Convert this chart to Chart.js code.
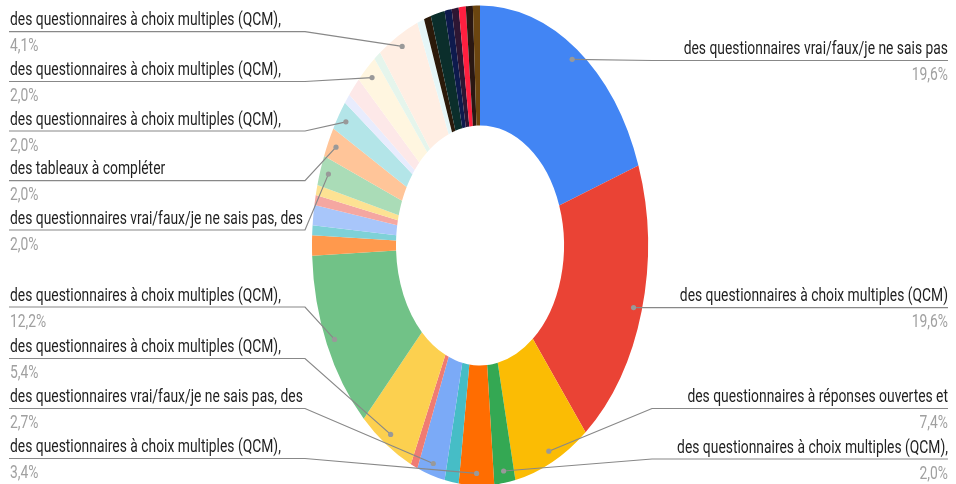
<!DOCTYPE html>
<html>
<head>
<meta charset="utf-8">
<script src="https://cdn.jsdelivr.net/npm/chart.js@4.4.1/dist/chart.umd.min.js"></script>
<style>
  html, body { margin: 0; padding: 0; background: #ffffff; }
  #wrap { position: relative; width: 956px; height: 484px; }
</style>
</head>
<body>
<div id="wrap"><canvas id="c"></canvas></div>
<script>
// ---- Data (counts of answers, total 148) ----
const categories = [
  "des questionnaires vrai/faux/je ne sais pas",
  "des questionnaires à choix multiples (QCM)",
  "des questionnaires à réponses ouvertes et",
  "des questionnaires à choix multiples (QCM),",
  "des questionnaires à choix multiples (QCM),",
  "",
  "des questionnaires vrai/faux/je ne sais pas, des",
  "",
  "des questionnaires à choix multiples (QCM),",
  "des questionnaires à choix multiples (QCM),",
  "", "", "", "", "",
  "des questionnaires vrai/faux/je ne sais pas, des",
  "des tableaux à compléter",
  "des questionnaires à choix multiples (QCM),",
  "", "",
  "des questionnaires à choix multiples (QCM),",
  "",
  "des questionnaires à choix multiples (QCM),",
  "", "", "", "", "", "", "", ""
];
const counts = [29, 29, 11, 3, 5, 2, 4, 1, 8, 18, 2, 1, 2, 1, 1, 3, 3, 3, 1, 2, 3, 1, 6, 1, 1, 2, 1, 1, 1, 1, 1];
const sliceColors = [
  "#4285f4", "#ea4335", "#fbbc04", "#34a853", "#ff6d01", "#46bdc6", "#7baaf7", "#f07b72",
  "#fcd04f", "#71c287", "#ff994d", "#7ed1d7", "#a8c6fa", "#f5a7a1", "#fde293", "#aadcb7",
  "#ffc599", "#b3e5e8", "#e8ecfd", "#fde8e8", "#fff6e0", "#e5f5ec", "#ffeee3", "#e6f6f7",
  "#2b1a0a", "#0b2e2b", "#0e1a4d", "#2e1633", "#ff1f3f", "#2a1712", "#6b4510"
];

// ---- Layout of the callouts (text rows; not data) ----
const callouts = [
  { i: 0,  side: "right", y: 60.5 },
  { i: 1,  side: "right", y: 307.7 },
  { i: 2,  side: "right", y: 408.5 },
  { i: 3,  side: "right", y: 459 },
  { i: 22, side: "left",  y: 31.7 },
  { i: 20, side: "left",  y: 81.5 },
  { i: 17, side: "left",  y: 131 },
  { i: 16, side: "left",  y: 180.7 },
  { i: 15, side: "left",  y: 230 },
  { i: 9,  side: "left",  y: 307 },
  { i: 8,  side: "left",  y: 358.5 },
  { i: 6,  side: "left",  y: 408.5 },
  { i: 4,  side: "left",  y: 458.5 }
];

const SQUASH = 0.7;      // the reference donut is drawn as an ellipse
const TEXT_SX = 0.77;    // horizontal squeeze of the label text
const FONT = "18px Roboto";

const total = counts.reduce((a, b) => a + b, 0);
const pct = v => (v / total * 100).toFixed(1).replace(".", ",") + "%";

const ellipsePlugin = {
  id: "ellipse",
  beforeDatasetsDraw(chart) {
    const arc = chart.getDatasetMeta(0).data[0];
    const ctx = chart.ctx;
    ctx.save();
    ctx.translate(arc.x, 0);
    ctx.scale(SQUASH, 1);
    ctx.translate(-arc.x, 0);
  },
  afterDatasetsDraw(chart) {
    chart.ctx.restore();
  }
};

function squeezedText(ctx, txt, x, y, align, color) {
  ctx.save();
  ctx.translate(x, y);
  ctx.scale(TEXT_SX, 1);
  ctx.textAlign = align;
  ctx.textBaseline = "alphabetic";
  ctx.fillStyle = color;
  ctx.font = FONT;
  ctx.fillText(txt, 0, 0);
  ctx.restore();
}

const calloutPlugin = {
  id: "callouts",
  afterDraw(chart) {
    const ctx = chart.ctx;
    const meta = chart.getDatasetMeta(0);
    callouts.forEach(c => {
      const arc = meta.data[c.i];
      const mid = (arc.startAngle + arc.endAngle) / 2;
      const r = arc.outerRadius * 0.95;
      const px = arc.x + Math.cos(mid) * r * SQUASH;
      const py = arc.y + Math.sin(mid) * r;
      const left = c.side === "left";
      const xEdge = left ? 9 : 948;
      const xElbow = left ? 305 : 652;
      ctx.save();
      ctx.strokeStyle = "#888888";
      ctx.lineWidth = 1.2;
      ctx.beginPath();
      ctx.moveTo(xEdge, c.y);
      ctx.lineTo(xElbow, c.y);
      ctx.lineTo(px, py);
      ctx.stroke();
      ctx.fillStyle = "#999999";
      ctx.beginPath();
      ctx.arc(px, py, 2.6, 0, Math.PI * 2);
      ctx.fill();
      ctx.restore();
      const tx = left ? 10 : 948;
      const al = left ? "left" : "right";
      squeezedText(ctx, categories[c.i], tx, c.y - 6.5, al, "#1f1f1f");
      squeezedText(ctx, pct(counts[c.i]), tx, c.y + 19.5, al, "#a0a0a0");
    });
  }
};

new Chart(document.getElementById("c"), {
  type: "doughnut",
  data: {
    labels: categories,
    datasets: [{
      data: counts,
      backgroundColor: sliceColors,
      borderWidth: 0,
      hoverOffset: 0,
      clip: false
    }]
  },
  options: {
    responsive: true,
    maintainAspectRatio: false,
    animation: false,
    radius: 240,
    cutout: "50%",
    layout: { padding: { top: 7, bottom: 0, left: 240, right: 236 } },
    plugins: {
      legend: { display: false },
      tooltip: { enabled: false }
    }
  },
  plugins: [ellipsePlugin, calloutPlugin]
});
</script>
</body>
</html>
